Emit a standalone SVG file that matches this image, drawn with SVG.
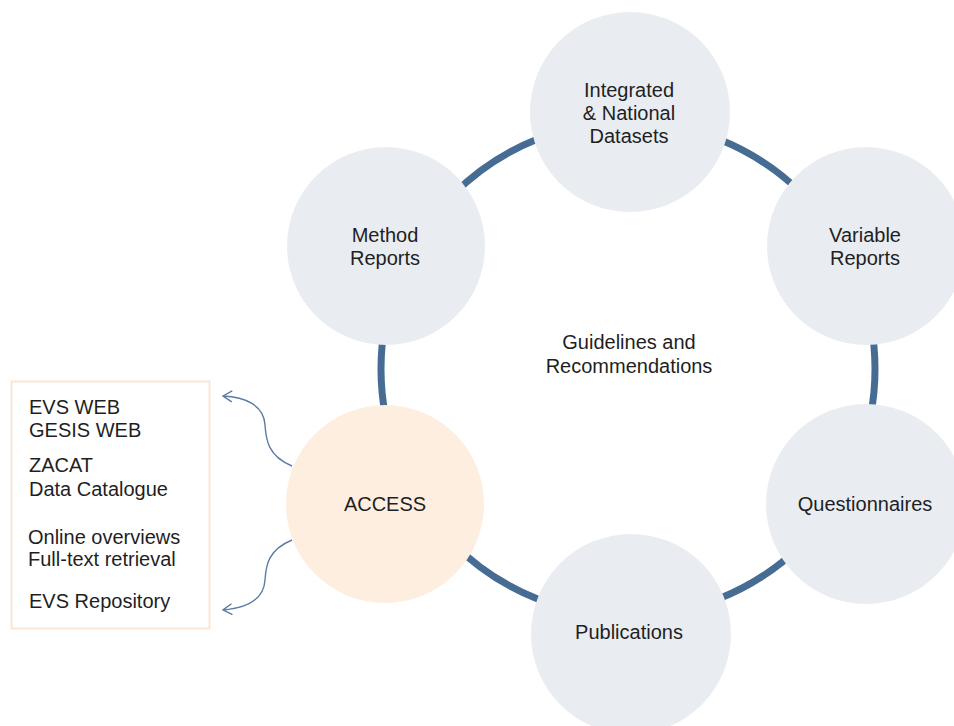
<svg xmlns="http://www.w3.org/2000/svg" width="954" height="726" viewBox="0 0 954 726">
<defs>
<style>
.t{font-family:"Liberation Sans",Arial,sans-serif;font-size:20px;fill:#1f1f1f}
.c{text-anchor:middle}
.node{fill:#e9edf2}
.acc{fill:#fdeee0}
.ring{fill:none;stroke:#476c93;stroke-width:7}
.link{fill:none;stroke:#5a7ba3;stroke-width:1.4}
</style>
<marker id="ah" markerUnits="userSpaceOnUse" markerWidth="20" markerHeight="20" viewBox="-12 -10 14 20" refX="0" refY="0" orient="auto">
<path d="M-9,-5.5 L0,0 L-9,5.5" fill="none" stroke="#5a7ba3" stroke-width="1.4"/>
</marker>
</defs>
<rect width="954" height="726" fill="#ffffff"/>
<g id="connectors">
<circle class="ring" cx="628" cy="369" r="247"/>
<path class="link" d="M292,466 C268,456 266,440 265,425 C264,405 245,397 223,396" marker-end="url(#ah)"/>
<path class="link" d="M292,540 C268,550 266,565 265,580 C264,600 245,608 223,610" marker-end="url(#ah)"/>
</g>
<g id="node-integrated">
<circle class="node" cx="630" cy="112" r="100"/>
<text class="t c" x="629" y="97">Integrated</text>
<text class="t c" x="629" y="120">&amp; National</text>
<text class="t c" x="629" y="143">Datasets</text>
</g>
<g id="node-method">
<circle class="node" cx="386" cy="246" r="99"/>
<text class="t c" x="385" y="242">Method</text>
<text class="t c" x="385" y="265">Reports</text>
</g>
<g id="node-variable">
<circle class="node" cx="866" cy="246" r="99"/>
<text class="t c" x="865" y="242">Variable</text>
<text class="t c" x="865" y="265">Reports</text>
</g>
<g id="node-questionnaires">
<circle class="node" cx="866" cy="504" r="100"/>
<text class="t c" x="865" y="511">Questionnaires</text>
</g>
<g id="node-publications">
<circle class="node" cx="631" cy="634" r="100"/>
<text class="t c" x="629" y="639">Publications</text>
</g>
<g id="node-access">
<circle class="acc" cx="385" cy="504" r="99"/>
<text class="t c" x="385" y="511">ACCESS</text>
</g>
<g id="node-center">
<text class="t c" x="629" y="349">Guidelines and</text>
<text class="t c" x="629" y="373">Recommendations</text>
</g>
<g id="node-access-list">
<rect x="11.5" y="381.5" width="198" height="247" fill="#ffffff" stroke="#fce6d3" stroke-width="2"/>
<text class="t" x="29" y="414">EVS WEB</text>
<text class="t" x="29" y="437">GESIS WEB</text>
<text class="t" x="29" y="472">ZACAT</text>
<text class="t" x="29" y="496">Data Catalogue</text>
<text class="t" x="28" y="544">Online overviews</text>
<text class="t" x="28" y="566">Full-text retrieval</text>
<text class="t" x="29" y="608">EVS Repository</text>
</g>
</svg>
